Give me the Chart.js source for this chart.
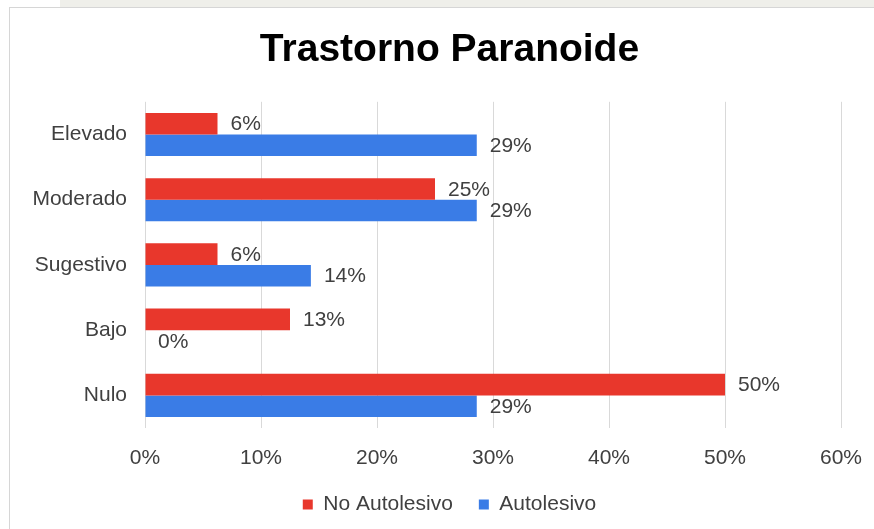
<!DOCTYPE html>
<html>
<head>
<meta charset="utf-8">
<script src="https://cdn.jsdelivr.net/npm/chart.js@4.4.0/dist/chart.umd.min.js"></script>
<style>
  html, body { margin: 0; padding: 0; background: #fff; }
  #wrap { position: relative; width: 874px; height: 529px; }
</style>
</head>
<body>
<div id="wrap"><canvas id="chart" width="874" height="529"></canvas></div>
<script>
const categories = ['Elevado', 'Moderado', 'Sugestivo', 'Bajo', 'Nulo'];
const noAutolesivo = [6.25, 25, 6.25, 12.5, 50];
const autolesivo = [28.6, 28.6, 14.3, 0, 28.6];
const xTicks = [0, 10, 20, 30, 40, 50, 60];

const RED = '#e8372c';
const BLUE = '#3a7ce6';
const TEXT = '#404040';

Chart.defaults.font.family = "'Liberation Sans', Arial, sans-serif";
Chart.defaults.color = TEXT;

// page frame + faint strip on top, like the scanned page
const frame = {
  id: 'frame',
  beforeDraw(chart) {
    const ctx = chart.ctx;
    ctx.save();
    ctx.fillStyle = '#ffffff';
    ctx.fillRect(0, 0, chart.width, chart.height);
    ctx.fillStyle = '#efefea';
    ctx.fillRect(60, 0, chart.width - 60, 7);
    ctx.strokeStyle = '#d6d6d6';
    ctx.lineWidth = 1;
    ctx.strokeRect(9.5, 7.5, chart.width, chart.height);
    ctx.restore();
  }
};

// let the category labels run left of the y scale box without being clipped
const wideLabels = {
  id: 'wideLabels',
  afterLayout(chart) {
    chart.scales.y.left = 0;
  }
};

// value labels at the end of each bar
const barLabels = {
  id: 'barLabels',
  afterDatasetsDraw(chart) {
    const ctx = chart.ctx;
    ctx.save();
    ctx.font = "21px 'Liberation Sans', Arial, sans-serif";
    ctx.fillStyle = TEXT;
    ctx.textAlign = 'left';
    ctx.textBaseline = 'middle';
    chart.data.datasets.forEach((ds, i) => {
      chart.getDatasetMeta(i).data.forEach((bar, j) => {
        ctx.fillText(Math.round(ds.data[j]) + '%', bar.x + 13, bar.y + 1);
      });
    });
    ctx.restore();
  }
};

new Chart(document.getElementById('chart'), {
  type: 'bar',
  data: {
    labels: categories,
    datasets: [
      { label: 'No Autolesivo', data: noAutolesivo, backgroundColor: RED, borderWidth: 0 },
      { label: 'Autolesivo', data: autolesivo, backgroundColor: BLUE, borderWidth: 0 }
    ]
  },
  options: {
    indexAxis: 'y',
    responsive: false,
    animation: false,
    categoryPercentage: 0.66,
    barPercentage: 1,
    layout: { padding: { left: 58, right: 33, top: 0, bottom: 4 } },
    plugins: {
      title: {
        display: true,
        text: 'Trastorno Paranoide',
        color: '#000',
        font: { size: 39, weight: 'bold' },
        padding: { top: 27, bottom: 28 }
      },
      legend: {
        position: 'bottom',
        labels: {
          boxWidth: 10,
          boxHeight: 10,
          padding: 26,
          color: TEXT,
          font: { size: 21 }
        }
      },
      tooltip: { enabled: false }
    },
    scales: {
      x: {
        min: 0,
        max: 60,
        afterBuildTicks: scale => { scale.ticks = xTicks.map(v => ({ value: v })); },
        afterFit: scale => {
          scale.height = 40;
          scale.paddingLeft = 0;
          scale.paddingRight = 0;
        },
        grid: { color: '#d9d9d9', drawTicks: false },
        border: { display: false },
        ticks: { padding: 18, color: TEXT, font: { size: 21 }, callback: v => v + '%' }
      },
      y: {
        afterFit: scale => { scale.width = 87; },
        grid: { display: false, drawTicks: false },
        border: { display: false },
        ticks: { padding: 18, color: TEXT, font: { size: 21 } }
      }
    }
  },
  plugins: [frame, wideLabels, barLabels]
});
</script>
</body>
</html>
